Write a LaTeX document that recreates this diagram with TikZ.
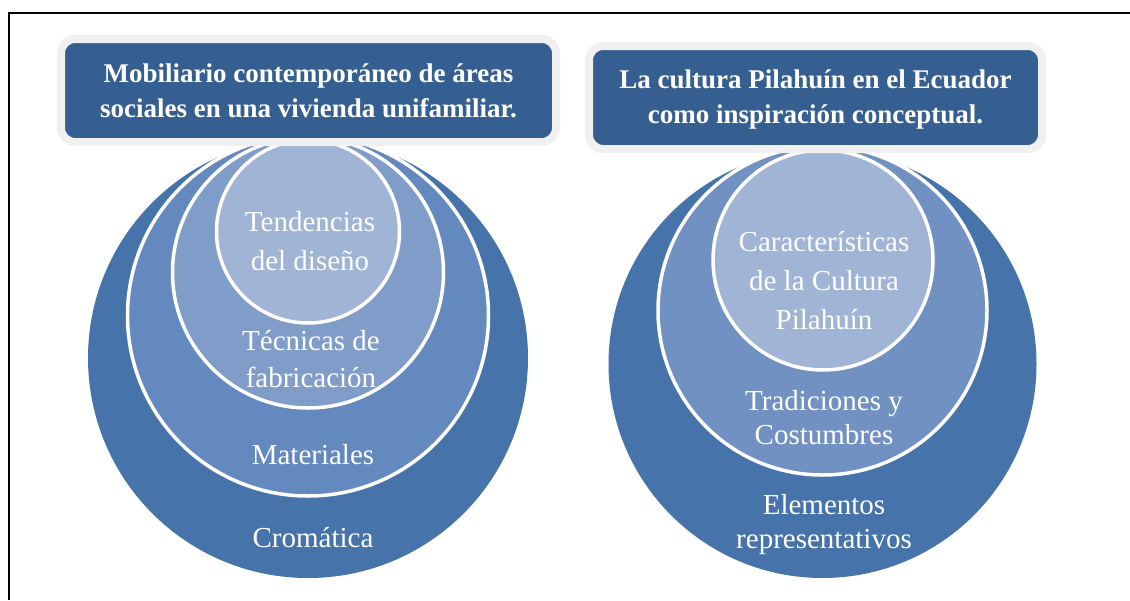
\documentclass[tikz,border=0pt]{standalone}
\usepackage{fontspec}
\setmainfont{Liberation Serif}
\definecolor{hdr}{HTML}{365F91}
\definecolor{hdredge}{HTML}{F0F0F0}
\definecolor{ringA}{HTML}{4674AA}
\definecolor{ringB}{HTML}{6389BE}
\definecolor{ringC}{HTML}{809DC9}
\definecolor{ringD}{HTML}{A0B4D5}
\definecolor{ringE}{HTML}{7091C2}
\begin{document}
\begin{tikzpicture}[x=1pt,y=-1pt,
  ring/.style={circle, draw=white, line width=3.5pt, inner sep=0pt},
  hdrbox/.style={fill=hdr, draw=hdredge, line width=8pt, rounded corners=14pt},
  hdrtext/.style={text=white, align=center, inner sep=0pt, font=\bfseries\fontsize{27}{35}\selectfont},
  ringtext/.style={text=white, align=center, inner sep=0pt, font=\fontsize{29}{39}\selectfont},
  ringtextb/.style={text=white, align=center, inner sep=0pt, font=\fontsize{29}{34}\selectfont}]
\useasboundingbox (0,0) rectangle (1130,600);
\fill[white] (0,0) rectangle (1130,600);
% frame
\draw[line width=2.5pt] (9,600) -- (9,13) -- (1130,13);
% left circles
\node[ring, draw=none, fill=ringA, minimum size=440pt] (l1) at (308,358) {};
\node[ring, fill=ringB, minimum size=361pt] (l2) at (308,315.5) {};
\node[ring, fill=ringC, minimum size=271pt] (l3) at (308,272.5) {};
\node[ring, fill=ringD, minimum size=183pt] (l4) at (308,231.5) {};
% right circles
\node[ring, draw=none, fill=ringA, minimum size=428pt] (r1) at (822.5,364) {};
\node[ring, fill=ringE, minimum size=329pt] (r2) at (822.5,310.5) {};
\node[ring, fill=ringD, minimum size=220pt] (r3) at (823,260) {};
% headers
\draw[hdrbox] (61,39) rectangle (556,142);
\node[hdrtext] (h1) at (308.5,91) {Mobiliario contemporáneo de áreas\\sociales en una vivienda unifamiliar.};
\draw[hdrbox] (589,46) rectangle (1042,149);
\node[hdrtext] (h2) at (815.5,99) {La cultura Pilahuín en el Ecuador\\como inspiración conceptual.};
% left labels
\node[ringtext] (t1) at (310,241) {Tendencias\\del diseño};
\node[ringtext, font=\fontsize{29}{37}\selectfont] (t2) at (311,359) {Técnicas de\\fabricación};
\node[ringtext] (t3) at (313,455) {Materiales};
\node[ringtext] (t4) at (313,538) {Cromática};
% right labels
\node[ringtext] (u1) at (824,281) {Características\\de la Cultura\\Pilahuín};
\node[ringtextb] (u2) at (824,418) {Tradiciones y\\Costumbres};
\node[ringtextb] (u3) at (824,525) {Elementos\\representativos};
\end{tikzpicture}
\end{document}
